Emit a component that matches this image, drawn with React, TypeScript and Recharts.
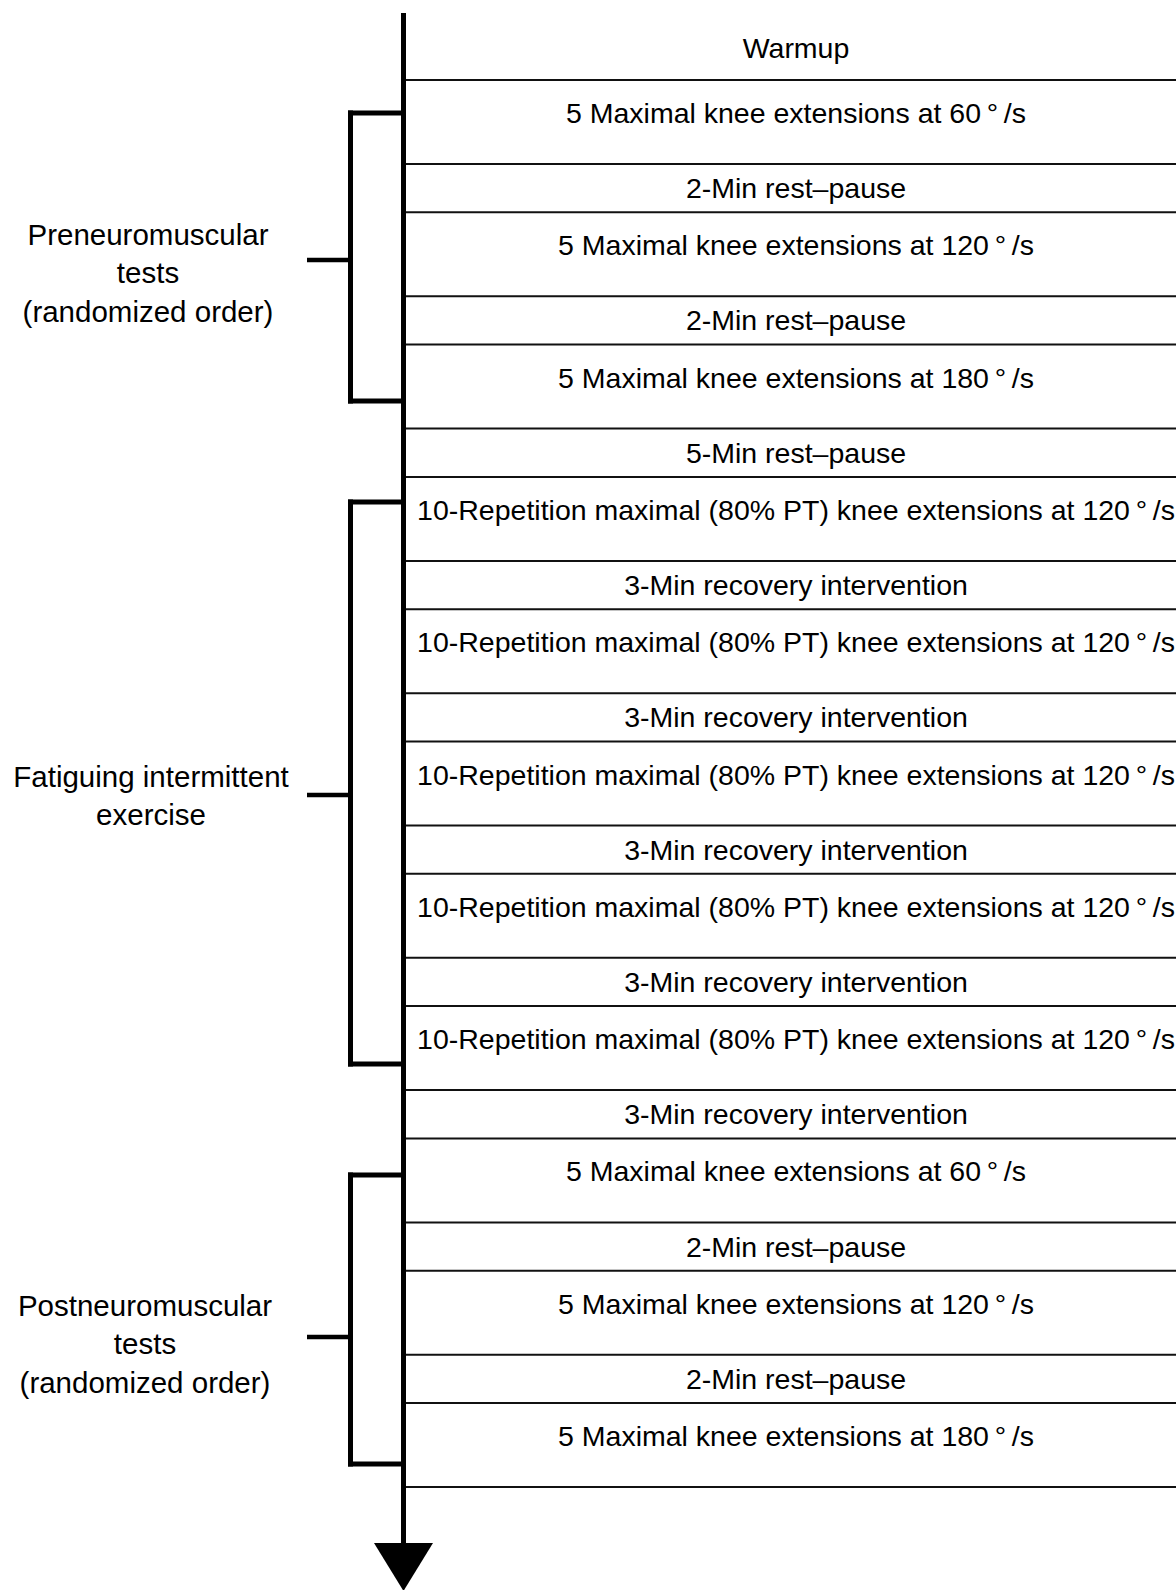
import React from "react";
import { ScatterChart, Scatter, XAxis, YAxis, ReferenceLine } from "recharts";

const W = 1176;
const H = 1590;
const FONT = '"Liberation Sans", Arial, Helvetica, sans-serif';

const AXIS_X = 403.5;
const AXIS_TOP = 13;
const ARROW_Y = 1543;
const RIGHT_X = 1176;
const TEXT_X = 796;
const BRACKET_X = 350.5;
const TICK_X = 307;
const TALL = 84;
const SHORT = 48.3;

// timeline steps (top to bottom)
const warmupLabel = "Warmup";
const warmupEnd = 80;

const stepLabels = [
  "5 Maximal knee extensions at 60\u2009°\u2009/s",
  "2-Min rest–pause",
  "5 Maximal knee extensions at 120\u2009°\u2009/s",
  "2-Min rest–pause",
  "5 Maximal knee extensions at 180\u2009°\u2009/s",
  "5-Min rest–pause",
  "10-Repetition maximal (80% PT) knee extensions at 120\u2009°\u2009/s",
  "3-Min recovery intervention",
  "10-Repetition maximal (80% PT) knee extensions at 120\u2009°\u2009/s",
  "3-Min recovery intervention",
  "10-Repetition maximal (80% PT) knee extensions at 120\u2009°\u2009/s",
  "3-Min recovery intervention",
  "10-Repetition maximal (80% PT) knee extensions at 120\u2009°\u2009/s",
  "3-Min recovery intervention",
  "10-Repetition maximal (80% PT) knee extensions at 120\u2009°\u2009/s",
  "3-Min recovery intervention",
  "5 Maximal knee extensions at 60\u2009°\u2009/s",
  "2-Min rest–pause",
  "5 Maximal knee extensions at 120\u2009°\u2009/s",
  "2-Min rest–pause",
  "5 Maximal knee extensions at 180\u2009°\u2009/s",
];

const stepKinds = [
  "test", "rest", "test", "rest", "test", "rest",
  "test", "rest", "test", "rest", "test", "rest", "test", "rest", "test", "rest",
  "test", "rest", "test", "rest", "test",
];

// brackets on the left
const groupLabels = [
  ["Preneuromuscular", "tests", "(randomized order)"],
  ["Fatiguing intermittent", "exercise"],
  ["Postneuromuscular", "tests", "(randomized order)"],
];
const groupTop = [113, 502, 1175];
const groupBottom = [401, 1064, 1464];
const groupMid = [260, 795, 1337];
const groupLabelX = [148, 151, 145];
const groupLabelY = [272, 795, 1343];

const boundaries: number[] = [warmupEnd];
stepKinds.forEach((k) => {
  boundaries.push(boundaries[boundaries.length - 1] + (k === "test" ? TALL : SHORT));
});

const stepPoints = [
  { x: TEXT_X, y: 48, label: warmupLabel },
  ...stepLabels.map((label, i) => ({
    x: TEXT_X,
    y: stepKinds[i] === "test" ? boundaries[i] + 33 : (boundaries[i] + boundaries[i + 1]) / 2,
    label,
  })),
];

const groupPoints = groupLabels.map((lines, i) => ({
  x: groupLabelX[i],
  y: groupLabelY[i],
  lines,
}));

const arrowPoint = [{ x: AXIS_X, y: ARROW_Y }];

function StepText(props: any) {
  const { cx, cy, payload } = props;
  return (
    <text
      x={cx}
      y={cy}
      textAnchor="middle"
      dominantBaseline="central"
      fontSize={28.5}
      fontFamily={FONT}
      fill="#000"
    >
      {payload.label}
    </text>
  );
}

function GroupText(props: any) {
  const { cx, cy, payload } = props;
  const lh = 38.5;
  const start = cy - ((payload.lines.length - 1) * lh) / 2;
  return (
    <text textAnchor="middle" dominantBaseline="central" fontSize={29.5} fontFamily={FONT} fill="#000">
      {payload.lines.map((l: string, i: number) => (
        <tspan key={i} x={cx} y={start + i * lh}>
          {l}
        </tspan>
      ))}
    </text>
  );
}

function Arrow(props: any) {
  const { cx, cy } = props;
  return <polygon points={`${cx - 29.5},${cy} ${cx + 29.5},${cy} ${cx},${cy + 48}`} fill="#000" />;
}

export default function App() {
  return (
    <div style={{ position: "absolute", left: 0, top: 0, width: W, height: H, background: "#fff" }}>
      <ScatterChart width={W} height={H} margin={{ top: 0, right: 0, bottom: 0, left: 0 }}>
        <XAxis type="number" dataKey="x" domain={[0, W]} hide />
        <YAxis type="number" dataKey="y" domain={[0, H]} reversed hide />

        {boundaries.map((b, i) => (
          <ReferenceLine
            key={`row-${i}`}
            segment={[
              { x: AXIS_X, y: b },
              { x: RIGHT_X, y: b },
            ]}
            stroke="#111"
            strokeWidth={2}
          />
        ))}

        <ReferenceLine
          segment={[
            { x: AXIS_X, y: AXIS_TOP },
            { x: AXIS_X, y: ARROW_Y + 2 },
          ]}
          stroke="#000"
          strokeWidth={5}
        />

        {groupTop.map((top, i) => (
          <React.Fragment key={`grp-${i}`}>
            <ReferenceLine
              segment={[
                { x: AXIS_X, y: top },
                { x: BRACKET_X, y: top },
              ]}
              stroke="#000"
              strokeWidth={5}
              strokeLinecap="square"
            />
            <ReferenceLine
              segment={[
                { x: BRACKET_X, y: top },
                { x: BRACKET_X, y: groupBottom[i] },
              ]}
              stroke="#000"
              strokeWidth={5}
              strokeLinecap="square"
            />
            <ReferenceLine
              segment={[
                { x: BRACKET_X, y: groupBottom[i] },
                { x: AXIS_X, y: groupBottom[i] },
              ]}
              stroke="#000"
              strokeWidth={5}
              strokeLinecap="square"
            />
            <ReferenceLine
              segment={[
                { x: TICK_X, y: groupMid[i] },
                { x: BRACKET_X, y: groupMid[i] },
              ]}
              stroke="#000"
              strokeWidth={4.5}
            />
          </React.Fragment>
        ))}

        <Scatter data={stepPoints} shape={StepText} isAnimationActive={false} />
        <Scatter data={groupPoints} shape={GroupText} isAnimationActive={false} />
        <Scatter data={arrowPoint} shape={Arrow} isAnimationActive={false} />
      </ScatterChart>
    </div>
  );
}
